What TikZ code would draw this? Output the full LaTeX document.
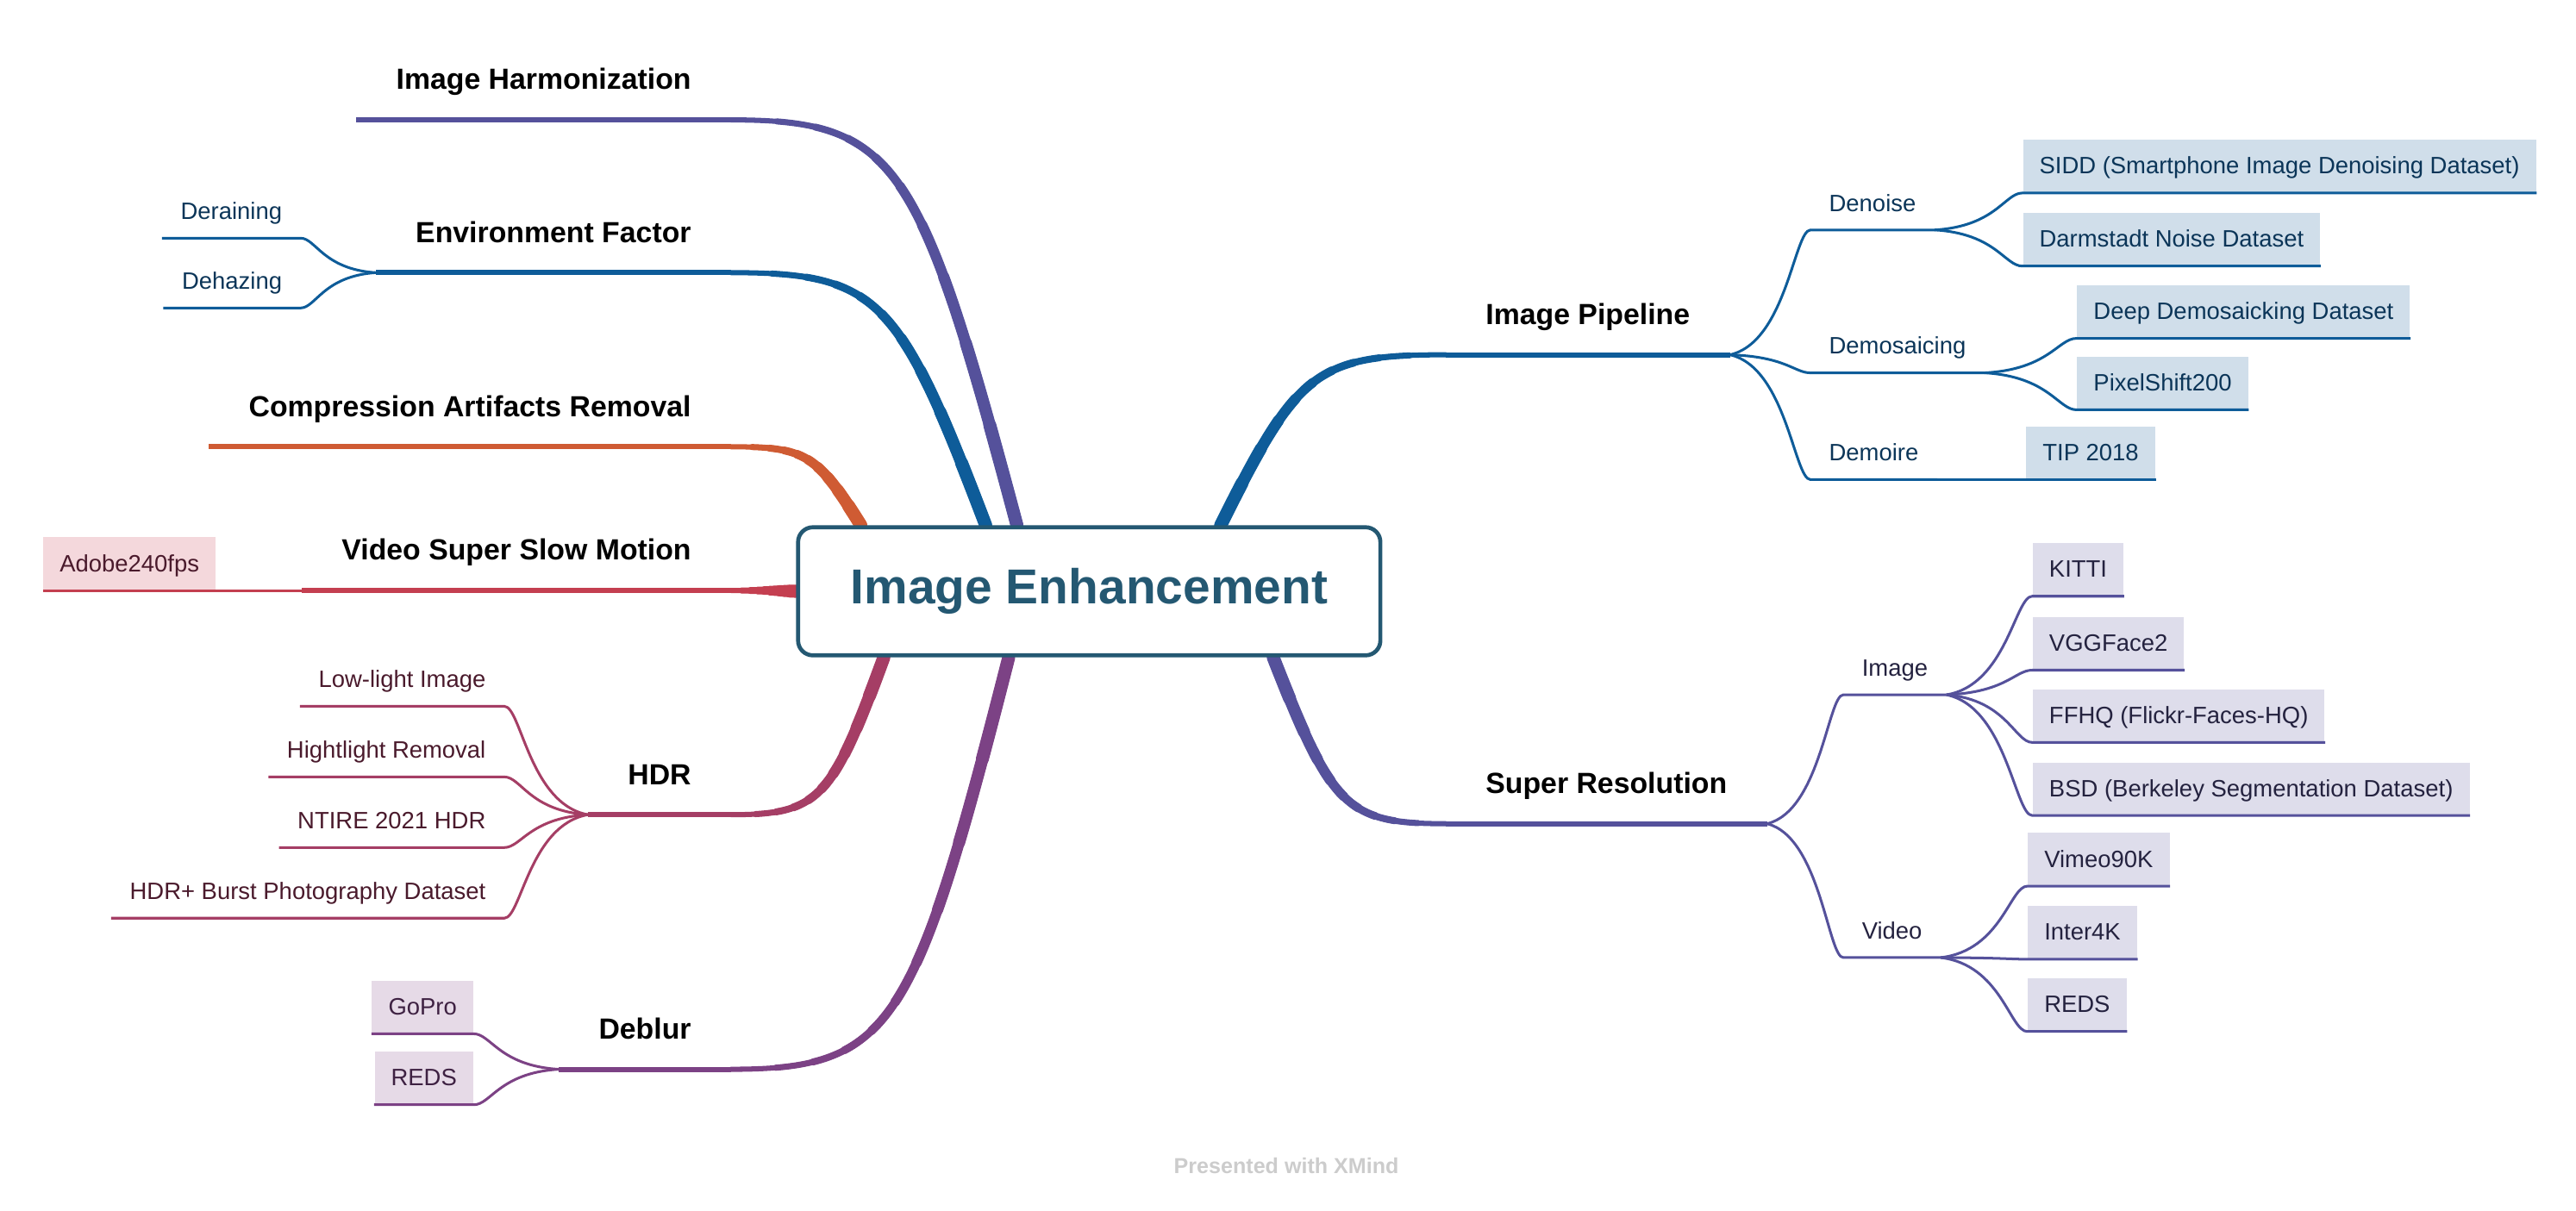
\documentclass[tikz,border=0pt]{standalone}
\usepackage{fontspec}
\setmainfont{Liberation Sans}
\usetikzlibrary{calc,backgrounds}

% branch colours
\definecolor{rootcol}{RGB}{36,88,114}
\definecolor{bluecol}{RGB}{14,92,153}
\definecolor{violetcol}{RGB}{85,81,155}
\definecolor{orangecol}{RGB}{207,91,51}
\definecolor{redcol}{RGB}{196,63,80}
\definecolor{rosecol}{RGB}{165,62,101}
\definecolor{plumcol}{RGB}{124,66,133}
% dataset boxes
\definecolor{bluefill}{RGB}{208,222,234}
\definecolor{violetfill}{RGB}{222,221,235}
\definecolor{redfill}{RGB}{244,216,220}
\definecolor{plumfill}{RGB}{230,218,231}
% small texts
\definecolor{bluetext}{RGB}{11,53,88}
\definecolor{violettext}{RGB}{36,34,63}
\definecolor{rosetext}{RGB}{74,26,44}
\definecolor{plumtext}{RGB}{62,33,66}

% tapered trunk from the central box to a topic
\newcommand{\trunk}[3]{%
  \path let \p1=(#1), \p2=(#2) in
    coordinate (tA) at (#1)
    coordinate (tB) at ({\x1+0.34*(\x2-\x1)},{\y1+0.9*(\y2-\y1)})
    coordinate (tC) at ({\x2-0.58*(\x2-\x1)},\y2)
    coordinate (tD) at (#2);
  \draw[#3, line width=1.8pt, line cap=round] (tA) .. controls (tB) and (tC) .. (tD);
  \foreach \t/\w in {0.9/2.1pt, 0.8/2.4pt, 0.7/2.7pt, 0.6/3.0pt, 0.5/3.3pt,
                     0.4/3.6pt, 0.3/3.9pt, 0.2/4.2pt, 0.1/4.5pt}{
    \path coordinate (q1) at ($(tA)!\t!(tB)$)
          coordinate (q2) at ($(tB)!\t!(tC)$)
          coordinate (q3) at ($(tC)!\t!(tD)$)
          coordinate (r1) at ($(q1)!\t!(q2)$)
          coordinate (r2) at ($(q2)!\t!(q3)$)
          coordinate (s1) at ($(r1)!\t!(r2)$);
    \draw[#3, line width=\w, line cap=round] (tA) .. controls (q1) and (r1) .. (s1);
  }%
}

\begin{document}
\begin{tikzpicture}[x=0.02cm, y=-0.02cm,
  root/.style={draw=rootcol, line width=1.4pt, rounded corners=0.18cm, fill=white,
    text=rootcol, font=\fontsize{17}{20}\selectfont\bfseries,
    minimum width=7.09cm, minimum height=1.56cm},
  topic/.style={font=\fontsize{10.1}{12}\selectfont\bfseries, inner xsep=0.48cm,
    inner ysep=7.8pt, text height=8pt, text depth=2.5pt},
  sub/.style={font=\fontsize{8.2}{10}\selectfont, text=#1, inner xsep=0.22cm,
    inner ysep=4.3pt, text height=6pt, text depth=2pt},
  leaf/.style 2 args={fill=#1, text=#2, font=\fontsize{8.2}{10}\selectfont,
    inner xsep=0.2cm, inner ysep=4.85pt, text height=7pt, text depth=1.5pt},
  bar/.style={line width=1.8pt},
  fork/.style={line width=0.9pt, to path={let \p1=(\tikztostart), \p2=(\tikztotarget) in
    .. controls ({\x1+0.7*(\x2-\x1)},{\y1+0.1*(\y2-\y1)}) and ({\x2-0.2*(\x2-\x1)},\y2) .. (\tikztotarget)}}]

  \useasboundingbox (0,0) rectangle (1568,737);

  % central topic
  \node[root] (root) at (663,360) {Image Enhancement};

  % main topics
  \node[topic, anchor=south east] (harm)   at (445,73)    {Image Harmonization};
  \node[topic, anchor=south east] (env)    at (445,166)   {Environment Factor};
  \node[topic, anchor=south east] (comp)   at (445,272)   {Compression Artifacts Removal};
  \node[topic, anchor=south east] (vssm)   at (445,359.5) {Video Super Slow Motion};
  \node[topic, anchor=south east] (hdr)    at (445,496)   {HDR};
  \node[topic, anchor=south east] (deblur) at (445,651)   {Deblur};
  \node[topic, anchor=south west] (pipe)   at (880,216)   {Image Pipeline};
  \node[topic, anchor=south west] (sr)     at (880,501.5) {Super Resolution};

  % where the trunks leave the central box
  \coordinate (rHarm)   at ($(root.north)+(-44,0)$);
  \coordinate (rEnv)    at ($(root.north)+(-63,0)$);
  \coordinate (rComp)   at ($(root.north)+(-139,0)$);
  \coordinate (rHdr)    at ($(root.south)+(-125,0)$);
  \coordinate (rDeblur) at ($(root.south)+(-49,0)$);
  \coordinate (rPipe)   at ($(root.north)+(80,0)$);
  \coordinate (rSr)     at ($(root.south)+(112,0)$);

  % trunks, behind the central box
  \begin{scope}[on background layer]
    \trunk{rHarm}{harm.south east}{violetcol}
    \trunk{rEnv}{env.south east}{bluecol}
    \trunk{rComp}{comp.south east}{orangecol}
    \trunk{root.west}{vssm.south east}{redcol}
    \trunk{rHdr}{hdr.south east}{rosecol}
    \trunk{rDeblur}{deblur.south east}{plumcol}
    \trunk{rPipe}{pipe.south west}{bluecol}
    \trunk{rSr}{sr.south west}{violetcol}
  \end{scope}

  % lines under the main topics
  \draw[bar, violetcol] (harm.south east) -- (harm.south west);
  \draw[bar, bluecol] (env.south east) -- (env.south west);
  \draw[bar, orangecol] (comp.south east) -- (comp.south west);
  \draw[bar, redcol] (vssm.south east) -- (vssm.south west);
  \draw[bar, rosecol] (hdr.south east) -- (hdr.south west);
  \draw[bar, plumcol] (deblur.south east) -- (deblur.south west);
  \draw[bar, bluecol] (pipe.south west) -- (pipe.south east);
  \draw[bar, violetcol] (sr.south west) -- (sr.south east);

  % environment factor
  \node[sub=bluetext, anchor=south east] (derain) at (183,145)   {Deraining};
  \node[sub=bluetext, anchor=south east] (dehaze) at (183,187.5) {Dehazing};
  \draw[fork, bluecol] (env.south west) to (derain.south east) -- (derain.south west);
  \draw[fork, bluecol] (env.south west) to (dehaze.south east) -- (dehaze.south west);

  % video super slow motion
  \node[leaf={redfill}{rosetext}, anchor=south west] (adobe) at (26,359.5) {Adobe240fps};
  \draw[fork, redcol] (vssm.south west) -- (adobe.south east) -- (adobe.south west);

  % HDR
  \node[sub=rosetext, anchor=south east] (lowlight) at (307,430) {Low-light Image};
  \node[sub=rosetext, anchor=south east] (hilight)  at (307,473) {Hightlight Removal};
  \node[sub=rosetext, anchor=south east] (ntire)    at (307,516) {NTIRE 2021 HDR};
  \node[sub=rosetext, anchor=south east] (burst)    at (307,559) {HDR+ Burst Photography Dataset};
  \foreach \nm in {lowlight,hilight,ntire,burst}
    \draw[fork, rosecol] (hdr.south west) to (\nm.south east) -- (\nm.south west);

  % deblur
  \node[leaf={plumfill}{plumtext}, anchor=south east] (gopro) at (288.4,629.4) {GoPro};
  \node[leaf={plumfill}{plumtext}, anchor=south east] (redsa) at (288.4,672.6) {REDS};
  \foreach \nm in {gopro,redsa}
    \draw[fork, plumcol] (deblur.south west) to (\nm.south east) -- (\nm.south west);

  % image pipeline
  \node[sub=bluetext, anchor=south west] (denoise)  at (1102,140) {Denoise};
  \node[sub=bluetext, anchor=south west] (demosaic) at (1102,227) {Demosaicing};
  \node[sub=bluetext, anchor=south west] (demoire)  at (1102,292) {Demoire};
  \foreach \nm in {denoise,demosaic,demoire}
    \draw[fork, bluecol] (pipe.south east) to (\nm.south west) -- (\nm.south east);

  \node[leaf={bluefill}{bluetext}, anchor=south west] (sidd)  at (1231,117.5) {SIDD (Smartphone Image Denoising Dataset)};
  \node[leaf={bluefill}{bluetext}, anchor=south west] (darm)  at (1231,162)   {Darmstadt Noise Dataset};
  \node[leaf={bluefill}{bluetext}, anchor=south west] (deep)  at (1264,206)   {Deep Demosaicking Dataset};
  \node[leaf={bluefill}{bluetext}, anchor=south west] (pixel) at (1264,249.5) {PixelShift200};
  \node[leaf={bluefill}{bluetext}, anchor=south west] (tip)   at (1233,292)   {TIP 2018};
  \foreach \nm in {sidd,darm}
    \draw[fork, bluecol] (denoise.south east) to (\nm.south west) -- (\nm.south east);
  \foreach \nm in {deep,pixel}
    \draw[fork, bluecol] (demosaic.south east) to (\nm.south west) -- (\nm.south east);
  \draw[fork, bluecol] (demoire.south east) -- (tip.south west) -- (tip.south east);

  % super resolution
  \node[sub=violettext, anchor=south west] (image) at (1122,423) {Image};
  \node[sub=violettext, anchor=south west] (video) at (1122,583) {Video};
  \foreach \nm in {image,video}
    \draw[fork, violetcol] (sr.south east) to (\nm.south west) -- (\nm.south east);

  \node[leaf={violetfill}{violettext}, anchor=south west] (kitti) at (1237,363)   {KITTI};
  \node[leaf={violetfill}{violettext}, anchor=south west] (vgg)   at (1237,408)   {VGGFace2};
  \node[leaf={violetfill}{violettext}, anchor=south west] (ffhq)  at (1237,452)   {FFHQ (Flickr-Faces-HQ)};
  \node[leaf={violetfill}{violettext}, anchor=south west] (bsd)   at (1237,496.5) {BSD (Berkeley Segmentation Dataset)};
  \node[leaf={violetfill}{violettext}, anchor=south west] (vimeo) at (1234,539.5) {Vimeo90K};
  \node[leaf={violetfill}{violettext}, anchor=south west] (inter) at (1234,584)   {Inter4K};
  \node[leaf={violetfill}{violettext}, anchor=south west] (redsb) at (1234,628)   {REDS};
  \foreach \nm in {kitti,vgg,ffhq,bsd}
    \draw[fork, violetcol] (image.south east) to (\nm.south west) -- (\nm.south east);
  \foreach \nm in {vimeo,inter,redsb}
    \draw[fork, violetcol] (video.south east) to (\nm.south west) -- (\nm.south east);

  % footer
  \node[text=black!20, font=\fontsize{7.5}{9}\selectfont\bfseries] (credit) at (783,710) {Presented with XMind};

\end{tikzpicture}
\end{document}
